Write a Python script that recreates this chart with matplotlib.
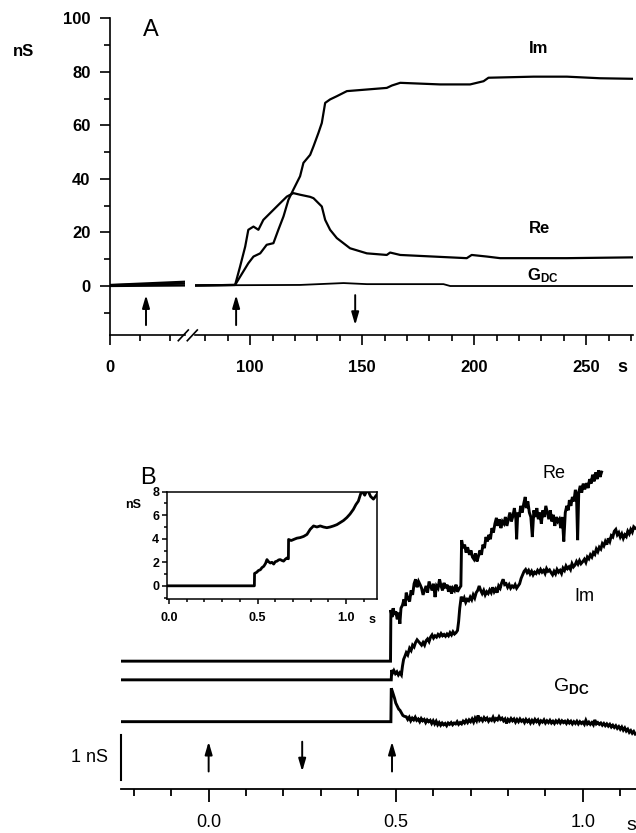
import matplotlib
matplotlib.use("Agg")
import matplotlib.pyplot as plt
from matplotlib.lines import Line2D

plt.rcParams['font.family'] = ['Liberation Sans', 'DejaVu Sans']
plt.rcParams['mathtext.fontset'] = 'custom'
plt.rcParams['mathtext.rm'] = 'Liberation Sans'
plt.rcParams['mathtext.bf'] = 'Liberation Sans:bold'

# ---------------- panel A (time in s, conductance in nS) ----------------
# segment before the axis break
a_left_t = [0, 25]
a_left_im = [0.3, 0.9]
a_left_re = [0.4, 1.6]
a_left_gdc = [0.0, 0.2]

# segment after the axis break
a_im_t = [75.4, 93.3, 99.2, 101.5, 104.5, 107.4, 110.4, 112.6, 114.9, 117.1, 119.3,
          122.3, 123.8, 126.8, 128.3, 130.5, 132.0, 133.5, 135.7, 138.7, 143.2, 152.1,
          161.0, 163.3, 167.0, 184.8, 198.2, 204.2, 206.4, 226.5, 241.4, 256.3, 271]
a_im = [0.2, 0.4, 8.5, 11.0, 12.2, 15.4, 16.0, 21.0, 26.0, 32.2, 36.0,
        41.0, 46.0, 49.0, 52.2, 57.2, 60.9, 68.4, 69.7, 70.9, 72.8, 73.4,
        74.0, 74.9, 75.9, 75.3, 75.3, 76.5, 77.8, 78.2, 78.2, 77.6, 77.4]

a_re_t = [75.4, 93.3, 95.5, 97.8, 99.2, 101.5, 103.7, 105.9, 108.9, 111.9, 114.2,
          116.4, 119.3, 122.3, 126.8, 128.3, 132.0, 133.5, 135.7, 138.7, 144.6, 152.1,
          161.0, 162.5, 167.0, 181.8, 196.7, 198.9, 205.7, 211.6, 241.4, 271]
a_re = [0.2, 0.4, 7.2, 14.7, 21.0, 22.2, 21.0, 24.7, 27.2, 29.7, 31.6,
        33.4, 34.7, 34.1, 33.3, 32.8, 29.7, 24.7, 21.0, 17.9, 14.1, 12.2,
        11.6, 12.5, 11.6, 11.0, 10.4, 11.6, 11.0, 10.4, 10.4, 10.7]

a_gdc_t = [75.4, 93.3, 122.3, 141.7, 152.1, 186.3, 189.3, 271]
a_gdc = [0.2, 0.3, 0.4, 1.1, 0.7, 0.7, 0.0, 0.0]

a_arrow_left_up = [12]
a_arrow_right_up = [93.75]
a_arrow_right_down = [146.9]
a_arrow_span = (-14.6, -3.4)

# ---------------- panel B (time in s, nS, traces offset) ----------------
b_re = [(-0.235, 1.36), (0.486, 1.36), (0.487, 2.51), (0.490, 2.35), (0.493, 2.55),
        (0.497, 2.40), (0.500, 2.48), (0.504, 2.30), (0.508, 2.45), (0.511, 2.20),
        (0.514, 2.55), (0.518, 2.62), (0.522, 2.75), (0.525, 2.60), (0.528, 2.90),
        (0.532, 2.78), (0.537, 2.70), (0.541, 2.95), (0.545, 2.85), (0.549, 3.10),
        (0.553, 3.20), (0.557, 3.02), (0.561, 3.15), (0.565, 3.08), (0.569, 3.00),
        (0.573, 2.85), (0.577, 2.95), (0.581, 3.05), (0.585, 2.90), (0.589, 3.15),
        (0.593, 3.05), (0.597, 2.95), (0.601, 3.10), (0.605, 2.80), (0.609, 3.05),
        (0.613, 3.00), (0.617, 3.20), (0.621, 3.05), (0.625, 2.95), (0.629, 3.12),
        (0.633, 3.00), (0.637, 3.08), (0.641, 2.92), (0.645, 3.05), (0.649, 2.88),
        (0.653, 3.00), (0.657, 2.95), (0.661, 3.08), (0.665, 2.92), (0.670, 3.00),
        (0.674, 3.05), (0.675, 3.65), (0.676, 4.08), (0.680, 3.90), (0.684, 3.98),
        (0.688, 3.80), (0.692, 3.92), (0.697, 3.75), (0.701, 3.85), (0.705, 3.70),
        (0.709, 3.65), (0.713, 3.78), (0.717, 3.60), (0.721, 3.72), (0.725, 3.85),
        (0.729, 3.75), (0.733, 3.98), (0.737, 3.90), (0.741, 4.15), (0.745, 4.05),
        (0.749, 4.20), (0.753, 4.10), (0.757, 4.35), (0.761, 4.25), (0.765, 4.45),
        (0.769, 4.58), (0.773, 4.40), (0.777, 4.55), (0.781, 4.35), (0.785, 4.50),
        (0.789, 4.45), (0.793, 4.60), (0.797, 4.40), (0.801, 4.55), (0.805, 4.70),
        (0.809, 4.50), (0.813, 4.62), (0.817, 4.80), (0.821, 4.55), (0.823, 4.10),
        (0.826, 4.70), (0.830, 4.60), (0.834, 4.85), (0.838, 4.70), (0.842, 4.90),
        (0.846, 5.05), (0.849, 4.80), (0.853, 4.95), (0.857, 4.70), (0.861, 4.60),
        (0.865, 4.15), (0.869, 4.75), (0.873, 4.60), (0.877, 4.80), (0.881, 4.55),
        (0.885, 4.70), (0.889, 4.45), (0.893, 4.75), (0.897, 4.60), (0.901, 4.85),
        (0.905, 4.70), (0.909, 4.55), (0.913, 4.75), (0.917, 4.50), (0.921, 4.65),
        (0.925, 4.40), (0.929, 4.60), (0.933, 4.50), (0.937, 4.55), (0.941, 4.35),
        (0.945, 4.60), (0.949, 4.05), (0.953, 4.70), (0.957, 4.85), (0.961, 4.75),
        (0.964, 4.98), (0.968, 4.85), (0.972, 5.05), (0.976, 4.95), (0.980, 5.21),
        (0.983, 5.10), (0.986, 4.08), (0.989, 5.15), (0.993, 5.30), (0.997, 5.15),
        (1.001, 5.35), (1.005, 5.22), (1.010, 5.36), (1.014, 5.25), (1.018, 5.45),
        (1.022, 5.35), (1.026, 5.55), (1.030, 5.40), (1.034, 5.60), (1.038, 5.45),
        (1.042, 5.65), (1.046, 5.50), (1.050, 5.61)]

b_im = [(-0.235, 0.94), (0.488, 0.94), (0.489, 1.16), (0.492, 1.10), (0.495, 1.15),
        (0.499, 1.08), (0.503, 1.12), (0.507, 1.05), (0.511, 1.10), (0.515, 1.05),
        (0.518, 1.25), (0.521, 1.40), (0.524, 1.46), (0.528, 1.55), (0.532, 1.50),
        (0.537, 1.65), (0.541, 1.60), (0.545, 1.72), (0.549, 1.68), (0.553, 1.78),
        (0.557, 1.84), (0.561, 1.80), (0.565, 1.76), (0.569, 1.72), (0.573, 1.78),
        (0.577, 1.72), (0.581, 1.82), (0.585, 1.86), (0.589, 1.80), (0.593, 1.90),
        (0.597, 1.95), (0.601, 1.88), (0.605, 1.93), (0.609, 1.90), (0.613, 1.96),
        (0.617, 1.92), (0.621, 1.98), (0.625, 1.93), (0.629, 1.96), (0.633, 1.92),
        (0.637, 1.97), (0.641, 1.93), (0.645, 2.00), (0.649, 1.95), (0.653, 2.02),
        (0.657, 1.97), (0.661, 2.00), (0.665, 2.05), (0.668, 2.25), (0.671, 2.55),
        (0.675, 2.81), (0.679, 2.70), (0.683, 2.78), (0.687, 2.68), (0.691, 2.75),
        (0.695, 2.72), (0.699, 2.80), (0.703, 2.74), (0.707, 2.85), (0.711, 2.78),
        (0.715, 2.90), (0.719, 2.95), (0.723, 3.05), (0.727, 2.95), (0.731, 2.88),
        (0.735, 2.95), (0.739, 2.85), (0.743, 2.92), (0.747, 2.88), (0.751, 2.96),
        (0.755, 2.90), (0.759, 3.02), (0.763, 2.92), (0.767, 2.98), (0.771, 2.90),
        (0.775, 3.05), (0.779, 3.00), (0.783, 3.12), (0.787, 3.20), (0.791, 3.08),
        (0.795, 3.10), (0.799, 3.02), (0.803, 3.08), (0.807, 3.00), (0.811, 3.05),
        (0.815, 3.02), (0.819, 3.08), (0.823, 3.00), (0.827, 3.05), (0.831, 3.10),
        (0.835, 3.22), (0.839, 3.30), (0.843, 3.38), (0.847, 3.42), (0.851, 3.35),
        (0.855, 3.40), (0.859, 3.32), (0.863, 3.38), (0.867, 3.30), (0.871, 3.36),
        (0.875, 3.33), (0.879, 3.40), (0.883, 3.35), (0.887, 3.42), (0.891, 3.36),
        (0.895, 3.40), (0.899, 3.33), (0.903, 3.44), (0.907, 3.38), (0.911, 3.41),
        (0.915, 3.35), (0.919, 3.30), (0.923, 3.38), (0.927, 3.32), (0.931, 3.42),
        (0.935, 3.36), (0.939, 3.40), (0.943, 3.33), (0.947, 3.45), (0.951, 3.40),
        (0.955, 3.50), (0.959, 3.44), (0.963, 3.48), (0.967, 3.42), (0.971, 3.55),
        (0.975, 3.48), (0.979, 3.52), (0.983, 3.60), (0.987, 3.54), (0.991, 3.62),
        (0.995, 3.55), (1.000, 3.60), (1.004, 3.65), (1.008, 3.58), (1.012, 3.70),
        (1.016, 3.66), (1.020, 3.75), (1.024, 3.70), (1.028, 3.80), (1.032, 3.76),
        (1.036, 3.88), (1.040, 3.82), (1.044, 3.92), (1.048, 3.88), (1.052, 4.00),
        (1.056, 3.95), (1.060, 4.05), (1.064, 3.98), (1.068, 4.12), (1.072, 4.05),
        (1.076, 4.18), (1.080, 4.15), (1.084, 4.28), (1.088, 4.32), (1.092, 4.20),
        (1.096, 4.25), (1.100, 4.15), (1.104, 4.22), (1.108, 4.12), (1.112, 4.20),
        (1.116, 4.16), (1.120, 4.28), (1.124, 4.22), (1.128, 4.32), (1.132, 4.26),
        (1.136, 4.38), (1.140, 4.35)]

b_gdc = [(-0.235, 0.0), (0.487, 0.0), (0.488, 0.75), (0.491, 0.68), (0.494, 0.60),
         (0.497, 0.52), (0.500, 0.42), (0.504, 0.35), (0.508, 0.28), (0.511, 0.26),
         (0.515, 0.20), (0.519, 0.14), (0.523, 0.12), (0.528, 0.11), (0.532, 0.05),
         (0.536, 0.10), (0.540, 0.02), (0.544, 0.08), (0.548, 0.04), (0.552, 0.10),
         (0.556, 0.03), (0.560, 0.06), (0.564, 0.00), (0.568, 0.07), (0.572, 0.02),
         (0.576, 0.05), (0.580, -0.02), (0.584, 0.04), (0.588, 0.00), (0.592, 0.03),
         (0.596, -0.04), (0.600, 0.02), (0.604, -0.05), (0.608, 0.01), (0.612, -0.07),
         (0.616, -0.02), (0.620, -0.08), (0.624, -0.03), (0.628, -0.07), (0.632, -0.04),
         (0.636, -0.09), (0.640, -0.03), (0.644, -0.06), (0.648, -0.02), (0.652, -0.07),
         (0.656, -0.03), (0.660, -0.05), (0.664, 0.00), (0.668, -0.06), (0.672, -0.02),
         (0.676, -0.05), (0.680, 0.01), (0.684, -0.03), (0.688, 0.03), (0.692, -0.02),
         (0.696, 0.04), (0.700, 0.00), (0.704, 0.06), (0.708, -0.01), (0.712, 0.08),
         (0.716, 0.02), (0.720, 0.14), (0.724, 0.03), (0.728, 0.07), (0.732, 0.02),
         (0.736, 0.09), (0.740, 0.04), (0.744, 0.08), (0.748, 0.01), (0.752, 0.06),
         (0.756, 0.03), (0.760, 0.10), (0.764, 0.02), (0.768, 0.07), (0.772, 0.04),
         (0.776, 0.11), (0.780, 0.05), (0.784, 0.08), (0.788, 0.02), (0.792, 0.06),
         (0.796, -0.04), (0.800, 0.05), (0.804, 0.01), (0.808, 0.07), (0.812, 0.02),
         (0.816, 0.06), (0.820, -0.01), (0.824, 0.05), (0.828, 0.00), (0.832, 0.06),
         (0.836, 0.01), (0.840, 0.04), (0.844, -0.02), (0.848, 0.05), (0.852, 0.00),
         (0.856, 0.04), (0.860, -0.03), (0.864, 0.03), (0.868, -0.02), (0.872, 0.05),
         (0.876, 0.00), (0.880, 0.04), (0.884, -0.04), (0.888, 0.02), (0.892, -0.01),
         (0.896, 0.04), (0.900, -0.03), (0.904, 0.02), (0.908, -0.02), (0.912, 0.03),
         (0.916, -0.03), (0.920, 0.01), (0.924, -0.04), (0.928, 0.02), (0.932, -0.02),
         (0.936, 0.03), (0.940, -0.03), (0.944, 0.02), (0.948, -0.02), (0.952, 0.01),
         (0.956, -0.04), (0.960, 0.02), (0.964, -0.03), (0.968, 0.01), (0.972, -0.05),
         (0.976, 0.00), (0.980, -0.04), (0.984, 0.01), (0.988, -0.05), (0.992, 0.00),
         (0.996, -0.04), (1.000, -0.01), (1.004, -0.06), (1.008, 0.03), (1.012, -0.05),
         (1.016, -0.01), (1.020, -0.06), (1.024, -0.02), (1.028, -0.07), (1.032, 0.04),
         (1.036, -0.05), (1.040, -0.02), (1.044, -0.06), (1.048, -0.03), (1.052, -0.08),
         (1.056, -0.04), (1.060, -0.09), (1.064, -0.05), (1.068, -0.10), (1.072, -0.06),
         (1.076, -0.12), (1.080, -0.08), (1.084, -0.13), (1.088, -0.09), (1.092, -0.15),
         (1.096, -0.11), (1.100, -0.17), (1.104, -0.12), (1.108, -0.19), (1.112, -0.14),
         (1.116, -0.21), (1.120, -0.17), (1.124, -0.24), (1.128, -0.20), (1.132, -0.26),
         (1.136, -0.22), (1.140, -0.28)]

b_arrow_up = [0.0, 0.49]
b_arrow_down = [0.25]
b_arrow_span = (-1.12, -0.45)
b_scale_bar = (-1.31, -0.31)   # 1 nS

# inset (nS)
ins_t = [-0.013, 0.482, 0.483, 0.495, 0.505, 0.516, 0.525, 0.535, 0.545, 0.553, 0.562,
         0.572, 0.581, 0.591, 0.600, 0.610, 0.619, 0.628, 0.638, 0.647, 0.656, 0.666,
         0.674, 0.675, 0.690, 0.704, 0.722, 0.741, 0.760, 0.779, 0.797, 0.816, 0.835,
         0.854, 0.872, 0.891, 0.910, 0.929, 0.948, 0.966, 0.985, 1.004, 1.022, 1.041,
         1.055, 1.069, 1.088, 1.105, 1.120, 1.138, 1.154, 1.176]
ins_v = [0.0, 0.0, 1.05, 1.15, 1.3, 1.37, 1.55, 1.66, 1.9, 2.23, 2.05,
         1.94, 2.0, 1.85, 2.05, 2.1, 2.2, 2.23, 2.15, 2.1, 2.25, 2.37,
         2.3, 3.94, 3.85, 3.94, 4.05, 4.1, 4.2, 4.37, 4.8, 5.09, 5.0,
         5.09, 5.0, 4.94, 5.0, 5.09, 5.2, 5.37, 5.55, 5.8, 6.1, 6.5,
         6.9, 7.2, 8.1, 7.7, 8.2, 7.6, 7.37, 7.8]

W, H = 636, 833
fig = plt.figure(figsize=(W / 100, H / 100), dpi=100)
LW = 1.6
ARW = dict(arrowstyle='-|>,head_width=0.22,head_length=0.75', lw=1.4,
           color='k', shrinkA=0, shrinkB=0)


def style(ax, fs, maj=7, mnr=4, w=1.2):
    ax.tick_params(which='major', direction='out', length=maj, width=w, labelsize=fs)
    ax.tick_params(which='minor', direction='out', length=mnr, width=w)
    for s in ax.spines.values():
        s.set_linewidth(w)


# ---------- panel A ----------
a_bot = 1 - 335 / H
a_h = (335 - 18.3) / H
axL = fig.add_axes([110 / W, a_bot, 75 / W, a_h])
axR = fig.add_axes([195 / W, a_bot, 438 / W, a_h])
for ax in (axL, axR):
    ax.set_ylim(-18.3, 100)
    ax.spines['top'].set_visible(False)
    ax.spines['right'].set_visible(False)
    style(ax, 12)
    ax.tick_params(axis='x', pad=11)
axR.spines['left'].set_visible(False)
axR.set_yticks([])

axL.set_xlim(0, 25)
axL.set_xticks([0])
axL.set_xticks([10, 20], minor=True)
axL.set_yticks(range(0, 101, 20))
axL.set_yticks(range(-10, 100, 20), minor=True)
axL.tick_params(axis='y', pad=7)

axR.set_xlim(75.4, 270.9)
axR.set_xticks([100, 150, 200, 250])
axR.set_xticks(range(80, 271, 10), minor=True)

for ax in (axL, axR):
    for lab in ax.get_xticklabels() + ax.get_yticklabels():
        lab.set_fontweight('bold')

axL.plot(a_left_t, a_left_gdc, color='k', lw=LW)
axL.plot(a_left_t, a_left_im, color='k', lw=LW)
axL.plot(a_left_t, a_left_re, color='k', lw=LW)
axR.plot(a_gdc_t, a_gdc, color='k', lw=1.3)
axR.plot(a_re_t, a_re, color='k', lw=LW)
axR.plot(a_im_t, a_im, color='k', lw=LW)

for x in a_arrow_left_up:
    axL.annotate('', xy=(x, a_arrow_span[1]), xytext=(x, a_arrow_span[0]), arrowprops=ARW)
for x in a_arrow_right_up:
    axR.annotate('', xy=(x, a_arrow_span[1]), xytext=(x, a_arrow_span[0]), arrowprops=ARW)
for x in a_arrow_right_down:
    axR.annotate('', xy=(x, a_arrow_span[0]), xytext=(x, a_arrow_span[1]), arrowprops=ARW)

axR.text(228.6, 88.8, 'Im', fontsize=12, fontweight='bold', ha='center', va='center')
axR.text(229, 21.6, 'Re', fontsize=12, fontweight='bold', ha='center', va='center')
axR.text(230.8, 4.0, r'$\mathbf{G_{DC}}$', fontsize=12, ha='center', va='center')

# axis break marks
for x0 in (178.3, 187.3):
    fig.add_artist(Line2D([x0 / W, (x0 + 10) / W], [1 - 340.7 / H, 1 - 330 / H],
                          color='k', lw=1.2))

fig.text(24 / W, 1 - 52 / H, 'nS', fontsize=12, fontweight='bold', ha='center', va='center')
fig.text(151 / W, 1 - 30 / H, 'A', fontsize=17, ha='center', va='center')
fig.text(622 / W, 1 - 367 / H, 's', fontsize=13, fontweight='bold', ha='center', va='center')

# ---------- panel B ----------
b_bot = 789.3
b_top = 463.6
axB = fig.add_axes([120.7 / W, 1 - b_bot / H, (W - 120.7) / W, (b_bot - b_top) / H])
axB.set_xlim(-0.235, 1.142)
axB.set_ylim(-1.52, 5.8)
for k in ('top', 'right', 'left'):
    axB.spines[k].set_visible(False)
style(axB, 13, maj=9, mnr=5, w=1.3)
axB.set_yticks([])
axB.set_xticks([0, 0.5, 1.0])
axB.set_xticklabels(['0.0', '0.5', '1.0'])
axB.set_xticks([-0.2, -0.1, 0.1, 0.2, 0.3, 0.4, 0.6, 0.7, 0.8, 0.9, 1.1], minor=True)
axB.tick_params(axis='x', pad=9)

for trace in (b_re, b_im, b_gdc):
    t, v = zip(*trace)
    axB.plot(t, v, color='k', lw=2.1, solid_joinstyle='miter')

axB.plot([-0.235, -0.235], list(b_scale_bar), color='k', lw=1.5, clip_on=False)

for x in b_arrow_up:
    axB.annotate('', xy=(x, b_arrow_span[1]), xytext=(x, b_arrow_span[0]), arrowprops=ARW)
for x in b_arrow_down:
    axB.annotate('', xy=(x, b_arrow_span[0]), xytext=(x, b_arrow_span[1]), arrowprops=ARW)

axB.text(0.922, 5.57, 'Re', fontsize=13, ha='center', va='center')
axB.text(1.005, 2.82, 'Im', fontsize=13, ha='center', va='center')
axB.text(0.97, 0.78, r'$\mathrm{G}_{\mathbf{DC}}$', fontsize=14, ha='center', va='center')

fig.text(108 / W, 1 - 757 / H, '1 nS', fontsize=13, ha='right', va='center')
fig.text(148 / W, 1 - 478 / H, 'B', fontsize=17, ha='center', va='center')
fig.text(631 / W, 1 - 826 / H, 's', fontsize=14, ha='center', va='center')

# ---------- inset ----------
axI = fig.add_axes([166.7 / W, 1 - 599 / H, (377.3 - 166.7) / W, (599 - 491.7) / H])
axI.set_xlim(-0.013, 1.176)
axI.set_ylim(-1.12, 8)
style(axI, 9, maj=3.5, mnr=2, w=1.1)
axI.set_yticks([0, 2, 4, 6, 8])
axI.set_yticks([-1, 1, 3, 5, 7], minor=True)
axI.set_xticks([0, 0.5, 1.0])
axI.set_xticklabels(['0.0', '0.5', '1.0'])
axI.set_xticks([0.1, 0.2, 0.3, 0.4, 0.6, 0.7, 0.8, 0.9, 1.1], minor=True)
axI.tick_params(axis='y', pad=2)
axI.tick_params(axis='x', pad=6)
for lab in axI.get_xticklabels() + axI.get_yticklabels():
    lab.set_fontweight('bold')
axI.plot(ins_t, ins_v, color='k', lw=2.0)
fig.text(133 / W, 1 - 505 / H, 'nS', fontsize=9, fontweight='bold', ha='center', va='center')
fig.text(372 / W, 1 - 620 / H, 's', fontsize=9, fontweight='bold', ha='center', va='center')

fig.savefig('out.png', dpi=100)
